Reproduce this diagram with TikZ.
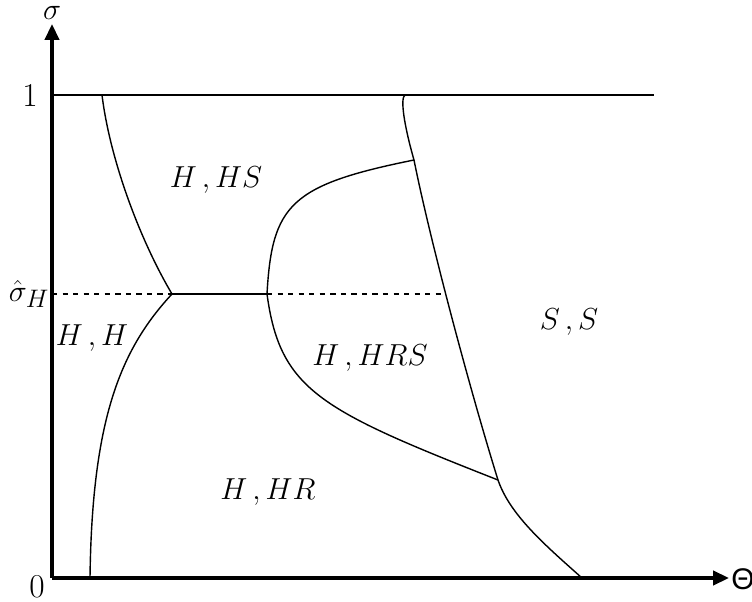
\documentclass[tikz,border=0pt]{standalone}
\usepackage{fontspec}
\setsansfont{Liberation Sans}
\usetikzlibrary{arrows.meta,positioning}

\begin{document}
\begin{tikzpicture}[x=0.02cm,y=-0.02cm,font=\fontsize{19}{22}\selectfont]
      \useasboundingbox (0,0) rectangle (752,602);
      \tikzset{axis/.style={line width=2pt,-{Triangle[length=9pt,width=8pt]}},
               border/.style={line width=0.8pt},
               region/.style={font=\fontsize{18}{22}\selectfont}}

      % Axes
      \coordinate (o) at (52,578);
      \coordinate (ytop) at (52,24);
      \coordinate (xend) at (729,578);
      \draw[axis] (o) -- (ytop);
      \draw[axis] (o) -- (xend);
      \node[inner sep=0pt,anchor=base] (sig) at (52,19) {$\sigma$};
      \node (theta) at (743,579) {\sffamily\fontsize{17}{20}\selectfont Θ};
      \node[inner sep=1pt] (zero) at (37,587) {0};
      \node (one) at (30,95) {1};
      \node (sighat) at (29,294) {$\hat{\sigma}_H$};

      % Level sigma = 1 and sigma hat
      \coordinate (l1) at (52,95);
      \coordinate (r1) at (654,95);
      \draw[border] (l1) -- (r1);
      \coordinate (lh) at (52,294);
      \coordinate (jl) at (172,294);
      \coordinate (jm) at (267,294);
      \coordinate (jr) at (446,294);
      \draw[dashed,line width=0.6pt] (lh) -- (jl);
      \draw[dashed,line width=0.6pt] (jm) -- (jr);
      \draw[border] (jl) -- (jm);

      % Region borders
      \coordinate (tl) at (102,95);
      \coordinate (bl) at (90,578);
      \coordinate (tr) at (405,95);
      \coordinate (jt) at (414,160);
      \coordinate (jb) at (498,480);
      \coordinate (br) at (582,578);
      \draw[border] (tl) .. controls (110,160) and (140,240) .. (jl);
      \draw[border] (jl) .. controls (120,350) and (92,420) .. (bl);
      \draw[border] (jm) .. controls (272,205) and (290,185) .. (jt);
      \draw[border] (jm) .. controls (280,390) and (320,410) .. (jb);
      \draw[border] (tr) .. controls (400,98) and (404,125) .. (jt)
                         .. controls (430,240) and (470,390) .. (jb)
                         .. controls (510,515) and (545,545) .. (br);

      % Labels
      \node[region] (hhs) at (216,180) {$H\,,HS$};
      \node[region] (hh) at (92,338) {$H\,,H$};
      \node[region] (hhrs) at (370,358) {$H\,,HRS$};
      \node[region] (ss) at (569,322) {$S\,,S$};
      \node[region] (hhr) at (268,492) {$H\,,HR$};
    \end{tikzpicture}
\end{document}
